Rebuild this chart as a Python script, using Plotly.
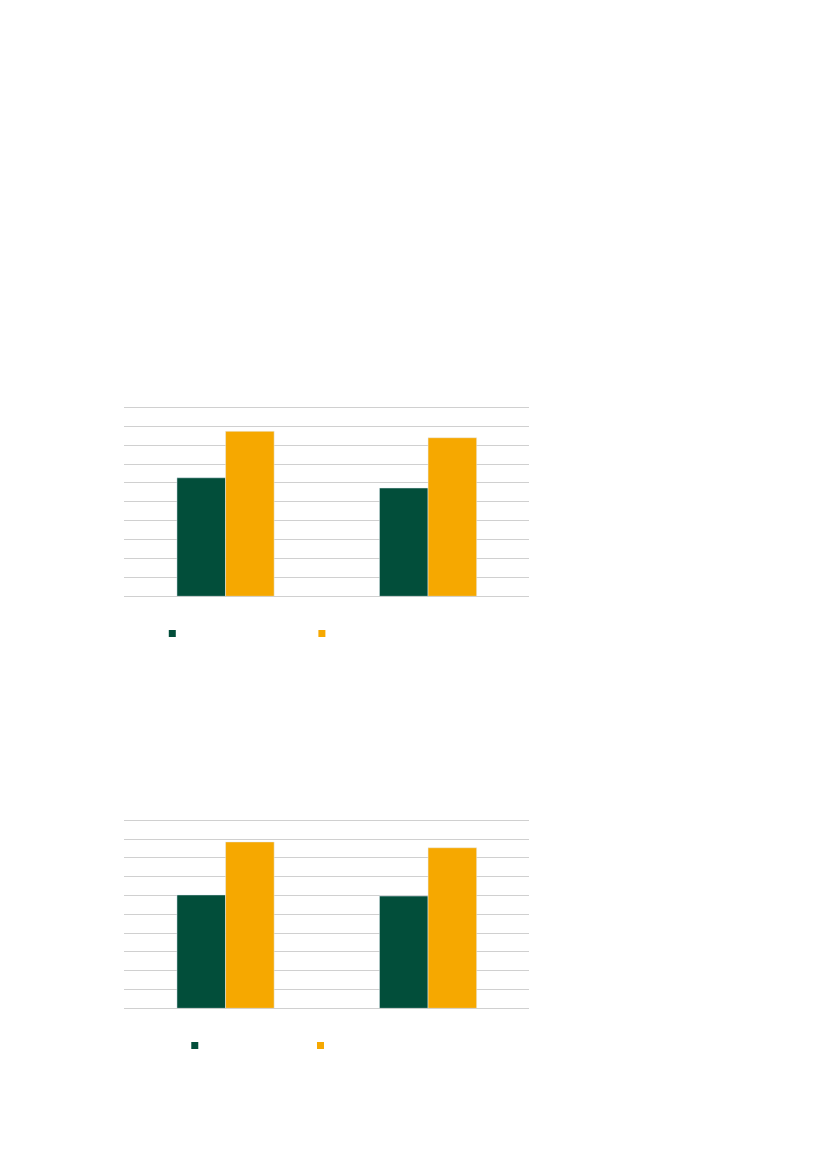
import plotly.graph_objects as go

# two category groups per chart, two series each (no labels visible in the reference)
categories = ["A", "B"]

chart1_green = [6.27, 5.73]
chart1_orange = [8.73, 8.39]

chart2_green = [6.03, 5.97]
chart2_orange = [8.85, 8.54]

green = "#024e3a"
orange = "#f6a800"
grid = "#d0d0d0"

W, H = 827, 1169
OFF = 8  # page body margin in the browser
YMAX = 10.15  # a bit above 10 so the top gridline is drawn


def px_x(v):
    return (v - OFF) / W


def px_y(v):
    return 1 - (v - OFF) / H


def top_for(bottom, top10):
    # extend the domain so the value 10 still lands on top10
    return bottom - (bottom - top10) * YMAX / 10


fig = go.Figure()

for idx, (g_vals, o_vals) in enumerate([(chart1_green, chart1_orange), (chart2_green, chart2_orange)]):
    xa = "x" if idx == 0 else "x2"
    ya = "y" if idx == 0 else "y2"
    fig.add_trace(go.Bar(x=categories, y=g_vals, marker=dict(color=green), xaxis=xa, yaxis=ya, showlegend=False))
    fig.add_trace(go.Bar(x=categories, y=o_vals, marker=dict(color=orange), xaxis=xa, yaxis=ya, showlegend=False))

# legend markers: one small square per legend entry
legend_items = [
    ("legend", green),
    ("legend2", orange),
    ("legend3", green),
    ("legend4", orange),
]
for leg, color in legend_items:
    fig.add_trace(
        go.Scatter(
            x=[None],
            y=[None],
            mode="markers",
            name=" ",
            marker=dict(color=color, symbol="square", size=7),
            legend=leg,
        )
    )

yaxis_style = dict(range=[0, YMAX], dtick=1, showticklabels=False, gridcolor=grid, gridwidth=1,
                   zeroline=True, zerolinecolor=grid, zerolinewidth=1)
leg_style = dict(xanchor="center", yanchor="middle", itemsizing="trace", bgcolor="rgba(0,0,0,0)")

fig.update_layout(
    width=W,
    height=H,
    margin=dict(l=0, r=0, t=0, b=0),
    paper_bgcolor="white",
    plot_bgcolor="white",
    barmode="group",
    bargap=0.52,
    bargroupgap=0,
    xaxis=dict(domain=[px_x(124.3), px_x(529.3)], anchor="y", showticklabels=False, ticks=""),
    yaxis=dict(domain=[px_y(596.3), px_y(top_for(596.3, 407.3))], anchor="x", **yaxis_style),
    xaxis2=dict(domain=[px_x(124.3), px_x(529.3)], anchor="y2", showticklabels=False, ticks=""),
    yaxis2=dict(domain=[px_y(1008.3), px_y(top_for(1008.3, 820.3))], anchor="x2", **yaxis_style),
    legend=dict(x=0.2041, y=px_y(633.5), **leg_style),
    legend2=dict(x=0.385, y=px_y(633.5), **leg_style),
    legend3=dict(x=0.2313, y=px_y(1045.5), **leg_style),
    legend4=dict(x=0.3833, y=px_y(1045.5), **leg_style),
)

fig.write_html("out.html")
